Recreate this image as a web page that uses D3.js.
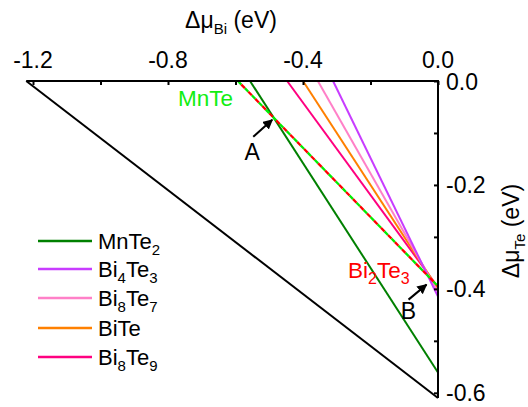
<!DOCTYPE html>
<html><head><meta charset="utf-8">
<script src="https://cdn.jsdelivr.net/npm/d3@7"></script>
<style>body{margin:0;background:#fff} svg{display:block} text{font-family:"Liberation Sans",Arial,sans-serif;fill:#000}</style>
</head><body><svg id="c" width="528" height="407"></svg>
<script>
// ---- data ----
const phases = ["MnTe2", "Bi4Te3", "Bi8Te7", "BiTe", "Bi8Te9"];
const phaseLabels = [["MnTe","2"], ["Bi","4","Te","3"], ["Bi","8","Te","7"], ["BiTe"], ["Bi","8","Te","9"]];
// intercept of each boundary with the top axis (Δμ_Bi at Δμ_Te = 0)
const biIntercepts = [-0.557, -0.311, -0.356, -0.400, -0.447];
// intercept with the right axis (Δμ_Te at Δμ_Bi = 0)
const teIntercepts = [-0.561, -0.415, -0.406, -0.400, -0.397];
const phaseColors = ["#008000", "#c83cff", "#ff80c8", "#ff8000", "#ff0080"];
// black limit line (μ_Mn = 0)
const limitBi = -1.22, limitTe = -0.61;
// MnTe / Bi2Te3 coincident boundary (dashed)
const dashBi = -0.593, dashTe = -0.395;
const xTicks = [-1.2, -1.0, -0.8, -0.6, -0.4, -0.2, 0.0];
const xTickLabels = ["-1.2", "", "-0.8", "", "-0.4", "", "0.0"];
const yTicks = [0.0, -0.1, -0.2, -0.3, -0.4, -0.5, -0.6];
const yTickLabels = ["0.0", "", "-0.2", "", "-0.4", "", "-0.6"];
const pointB = [-0.0296, -0.388];

// ---- layout ----
const svg = d3.select("#c");
const x = d3.scaleLinear().domain([-1.22, 0]).range([26.25, 438]);
const y = d3.scaleLinear().domain([0, -0.61]).range([81, 398]);
const FS = 23;

const seg = (bi, te) => [[bi, 0], [0, te]];
const line = d3.line().x(d => x(d[0])).y(d => y(d[1]));

svg.append("path").attr("d", line(seg(limitBi, limitTe)))
  .attr("stroke", "#000").attr("stroke-width", 2).attr("fill", "none");

const order = [4, 3, 2, 1, 0];
order.forEach(i => {
  svg.append("path").attr("d", line(seg(biIntercepts[i], teIntercepts[i])))
    .attr("stroke", phaseColors[i]).attr("stroke-width", 2).attr("fill", "none");
});

// dashed MnTe / Bi2Te3
svg.append("path").attr("d", line(seg(dashBi, dashTe)))
  .attr("stroke", "#00ee00").attr("stroke-width", 2.3).attr("fill", "none")
  .attr("stroke-dasharray", "5,5");
svg.append("path").attr("d", line(seg(dashBi, dashTe)))
  .attr("stroke", "#ff0000").attr("stroke-width", 2.3).attr("fill", "none")
  .attr("stroke-dasharray", "5,5").attr("stroke-dashoffset", 5);

// axes
const xAxis = d3.axisTop(x).tickValues(xTicks).tickSize(-4).tickFormat("");
const gx = svg.append("g").attr("transform", `translate(0,${y(0)})`).call(xAxis);
const yAxis = d3.axisRight(y).tickValues(yTicks).tickSize(-4).tickFormat("");
const gy = svg.append("g").attr("transform", `translate(${x(0)},0)`).call(yAxis);
[gx, gy].forEach(g => {
  g.select(".domain").attr("stroke", "#000").attr("stroke-width", 2);
  g.selectAll(".tick line").attr("stroke", "#000").attr("stroke-width", 2);
});
gx.select(".domain").attr("d", `M${x(-1.22)},0H${x(0) + 1}`);
gy.select(".domain").attr("d", `M0,${y(0) - 1}V${y(-0.61)}`);

// tick labels
svg.selectAll(".xl").data(xTicks).enter().append("text")
  .attr("x", d => x(d)).attr("y", 68).attr("text-anchor", "middle")
  .attr("font-size", FS).text((d, i) => xTickLabels[i]);
svg.selectAll(".yl").data(yTicks).enter().append("text")
  .attr("x", 446).attr("y", d => y(d) + 8.5).attr("text-anchor", "start")
  .attr("font-size", FS).text((d, i) => yTickLabels[i]);

// axis titles
const tx = svg.append("text").attr("x", 231).attr("y", 28).attr("text-anchor", "middle").attr("font-size", FS);
tx.append("tspan").text("Δμ");
tx.append("tspan").attr("font-size", 15).attr("dy", 6).text("Bi");
tx.append("tspan").attr("dy", -6).text(" (eV)");

const ty = svg.append("text").attr("transform", "translate(519,231) rotate(-90)")
  .attr("text-anchor", "middle").attr("font-size", FS);
ty.append("tspan").text("Δμ");
ty.append("tspan").attr("font-size", 15).attr("dy", 6).text("Te");
ty.append("tspan").attr("dy", -6).text(" (eV)");

// legend
const legY = [241, 269, 298, 328, 357];
phases.forEach((p, i) => {
  svg.append("line").attr("x1", 38).attr("x2", 92).attr("y1", legY[i]).attr("y2", legY[i])
    .attr("stroke", phaseColors[i]).attr("stroke-width", 2.5);
  const t = svg.append("text").attr("x", 98).attr("y", legY[i] + 8).attr("font-size", 22);
  phaseLabels[i].forEach((s, k) => {
    const sub = k % 2 === 1;
    t.append("tspan").attr("font-size", sub ? 15 : 22).attr("dy", k === 0 ? 0 : (sub ? 6 : -6)).text(s);
  });
});

// point A: intersection of MnTe2 with dashed line
const a1 = biIntercepts[0], b1 = teIntercepts[0];
const det = (1 / a1) * (1 / dashTe) - (1 / b1) * (1 / dashBi);
const pA = [((1 / dashTe) - (1 / b1)) / det, ((1 / a1) - (1 / dashBi)) / det];

// labels
svg.append("text").attr("x", 178).attr("y", 106).attr("font-size", 22.5).style("fill", "#11ee11").text("MnTe");
const bt = svg.append("text").attr("x", 348).attr("y", 278).attr("font-size", 22.5).style("fill", "#ff0000");
[["Bi",0],["2",1],["Te",0],["3",1]].forEach(([s, sub], k) => {
  bt.append("tspan").attr("font-size", sub ? 16 : 22.5).attr("dy", k === 0 ? 0 : (sub ? 6 : -6)).style("fill", "#ff0000").text(s);
});

// arrows
const defs = svg.append("defs");
defs.append("marker").attr("id", "ah").attr("viewBox", "0 0 10 10").attr("refX", 9).attr("refY", 5)
  .attr("markerWidth", 5).attr("markerHeight", 5).attr("orient", "auto")
  .append("path").attr("d", "M0,0L10,5L0,10Z").attr("fill", "#000");
function arrow(pt, dx, dy, label, lx, ly) {
  const px = x(pt[0]) - 1.5, py = y(pt[1]) + 2;
  svg.append("line").attr("x1", px + dx).attr("y1", py + dy).attr("x2", px).attr("y2", py)
    .attr("stroke", "#000").attr("stroke-width", 2).attr("marker-end", "url(#ah)");
  svg.append("text").attr("x", px + lx).attr("y", py + ly).attr("text-anchor", "middle")
    .attr("font-size", 23).text(label);
}
arrow(pA, -19, 17, "A", -20, 40);
arrow(pointB, -18, 15, "B", -18, 34);
</script></body></html>
